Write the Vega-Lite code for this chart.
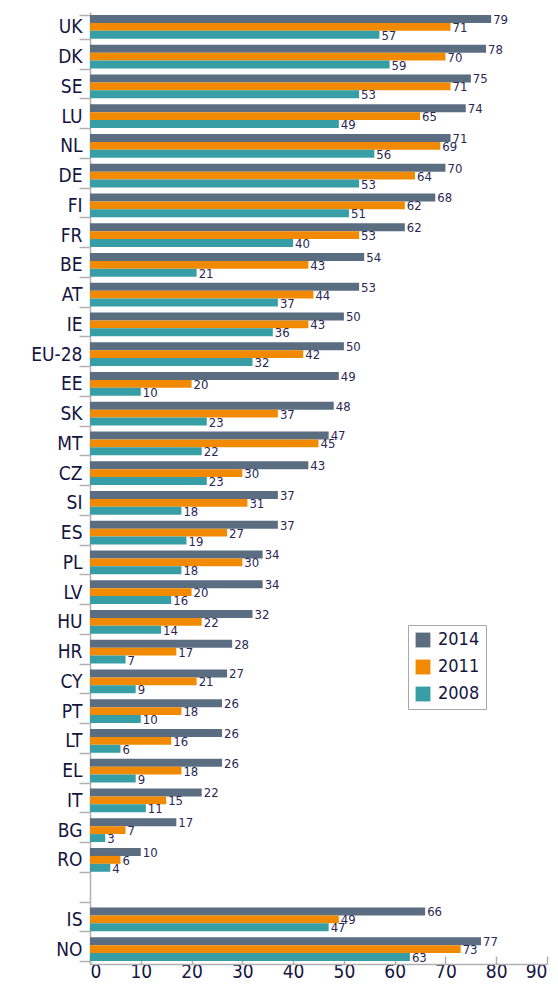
{
  "$schema": "https://vega.github.io/schema/vega-lite/v6.json",
  "autosize": {"type": "none"},
  "padding": {"left": 90, "top": 12, "right": 11, "bottom": 21},
  "width": 457,
  "height": 952,
  "background": "white",
  "config": {"view": {"stroke": null}},
  "data": {"values": [
    {"c": "UK", "2014": 79, "2011": 71, "2008": 57},
    {"c": "DK", "2014": 78, "2011": 70, "2008": 59},
    {"c": "SE", "2014": 75, "2011": 71, "2008": 53},
    {"c": "LU", "2014": 74, "2011": 65, "2008": 49},
    {"c": "NL", "2014": 71, "2011": 69, "2008": 56},
    {"c": "DE", "2014": 70, "2011": 64, "2008": 53},
    {"c": "FI", "2014": 68, "2011": 62, "2008": 51},
    {"c": "FR", "2014": 62, "2011": 53, "2008": 40},
    {"c": "BE", "2014": 54, "2011": 43, "2008": 21},
    {"c": "AT", "2014": 53, "2011": 44, "2008": 37},
    {"c": "IE", "2014": 50, "2011": 43, "2008": 36},
    {"c": "EU-28", "2014": 50, "2011": 42, "2008": 32},
    {"c": "EE", "2014": 49, "2011": 20, "2008": 10},
    {"c": "SK", "2014": 48, "2011": 37, "2008": 23},
    {"c": "MT", "2014": 47, "2011": 45, "2008": 22},
    {"c": "CZ", "2014": 43, "2011": 30, "2008": 23},
    {"c": "SI", "2014": 37, "2011": 31, "2008": 18},
    {"c": "ES", "2014": 37, "2011": 27, "2008": 19},
    {"c": "PL", "2014": 34, "2011": 30, "2008": 18},
    {"c": "LV", "2014": 34, "2011": 20, "2008": 16},
    {"c": "HU", "2014": 32, "2011": 22, "2008": 14},
    {"c": "HR", "2014": 28, "2011": 17, "2008": 7},
    {"c": "CY", "2014": 27, "2011": 21, "2008": 9},
    {"c": "PT", "2014": 26, "2011": 18, "2008": 10},
    {"c": "LT", "2014": 26, "2011": 16, "2008": 6},
    {"c": "EL", "2014": 26, "2011": 18, "2008": 9},
    {"c": "IT", "2014": 22, "2011": 15, "2008": 11},
    {"c": "BG", "2014": 17, "2011": 7, "2008": 3},
    {"c": "RO", "2014": 10, "2011": 6, "2008": 4},
    {"c": "IS", "2014": 66, "2011": 49, "2008": 47},
    {"c": "NO", "2014": 77, "2011": 73, "2008": 63}
  ]},
  "transform": [{"fold": ["2014", "2011", "2008"], "as": ["year", "value"]}],
  "encoding": {
    "y": {
      "field": "c", "type": "nominal",
      "scale": {"domain": ["UK","DK","SE","LU","NL","DE","FI","FR","BE","AT","IE","EU-28","EE","SK","MT","CZ","SI","ES","PL","LV","HU","HR","CY","PT","LT","EL","IT","BG","RO"," ","IS","NO"], "paddingInner": 0.2, "paddingOuter": 0.1},
      "axis": {
        "title": null, "tickBand": "extent", "tickSize": 11, "tickColor": "#b0b0b0", "tickWidth": 1.5,
        "domainColor": "#b0b0b0", "domainWidth": 1.5,
        "labelFont": "DejaVu Sans Condensed, Liberation Sans", "labelFontSize": 19, "labelColor": "#15153f", "labelPadding": -3
      }
    },
    "yOffset": {"field": "year", "type": "nominal", "sort": ["2014", "2011", "2008"]},
    "x": {
      "field": "value", "type": "quantitative",
      "scale": {"domain": [0, 90], "nice": false},
      "axis": {
        "title": null, "grid": false, "values": [0,10,20,30,40,50,60,70,80,90],
        "tickSize": -8, "tickColor": "#b0b0b0", "tickWidth": 1.5,
        "domainColor": "#b0b0b0", "domainWidth": 1.5,
        "labelFont": "DejaVu Sans Condensed, Liberation Sans", "labelFontSize": 19, "labelColor": "#15153f", "labelPadding": 6
      }
    }
  },
  "layer": [
    {
      "mark": {"type": "bar"},
      "encoding": {
        "color": {
          "field": "year", "type": "nominal",
          "scale": {"domain": ["2014", "2011", "2008"], "range": ["#5b6d80", "#f18a00", "#389ea5"]},
          "legend": {
            "title": null, "orient": "none", "legendX": 318, "legendY": 613,
            "strokeColor": "#a8a8a8", "padding": 6, "symbolType": "square", "symbolSize": 220,
            "symbolStrokeWidth": 0, "symbolOpacity": 1, "labelFont": "DejaVu Sans Condensed, Liberation Sans", "labelFontSize": 18,
            "labelColor": "#15153f", "rowPadding": 9, "labelOffset": 6
          }
        }
      }
    },
    {
      "mark": {"type": "text", "align": "left", "baseline": "middle", "dx": 2, "dy": 1,
        "font": "DejaVu Sans Condensed, Liberation Sans", "fontSize": 13, "color": "#2b2755"},
      "encoding": {"text": {"field": "value", "type": "quantitative"}}
    }
  ]
}
